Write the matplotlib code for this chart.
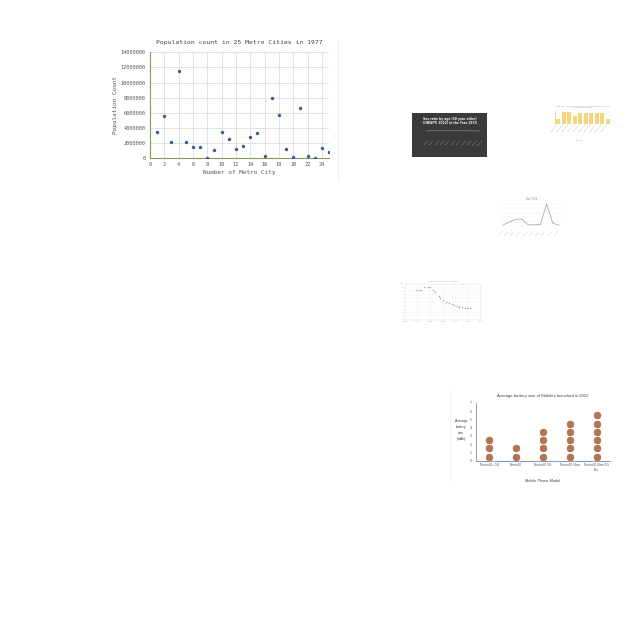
import numpy as np
import matplotlib.pyplot as plt
from matplotlib.lines import Line2D

# main chart: population of 25 metro cities
city_no = list(range(1, 26))
population = [3470000, 5560000, 2090000, 11470000, 2130000, 1470000, 1470000, 90000,
              1160000, 3420000, 2580000, 1240000, 1640000, 2840000, 3330000, 360000,
              7960000, 5690000, 1240000, 130000, 6670000, 270000, 50000, 1420000, 890000]
pop_ticks = list(range(0, 14000001, 2000000))
city_ticks = list(range(0, 25, 2))

# thumbnail: dark line chart
dark_x = list(range(1, 12))
dark_y = [0.62, 0.63, 0.64, 0.64, 0.63, 0.63, 0.64, 0.63, 0.63, 0.62, 0.62]

# thumbnail: yellow bars
bar_x = list(range(10))
bar_h = [0.40, 1.00, 1.00, 0.70, 0.95, 0.95, 0.95, 0.95, 0.95, 0.45]

# thumbnail: line chart "Year 2020"
line_x = list(range(10))
line_y = [0.04, 0.18, 0.30, 0.32, 0.06, 0.05, 0.07, 1.00, 0.12, 0.04]

# thumbnail: decreasing scatter
dec_x = [1959, 1961, 1963, 1965, 1968, 1970, 1972, 1974, 1977, 1978, 1980,
         1982, 1985, 1987, 1989, 1991, 1993, 1995, 1997, 1999, 2001]
dec_y = [8.3, 8.2, 8.3, 9.2, 9.3, 9.2, 8.3, 7.9, 6.8, 6.2, 5.6,
         5.1, 4.6, 4.4, 4.2, 4.0, 3.7, 3.5, 3.4, 3.4, 3.4]

# thumbnail: battery pictogram
models = ['Nemo20+ 5G', 'Nemo20', 'Nemo20 5G', 'Nemo20 Ultra', 'Nemo20 Ultra 5G\nPro']
battery = [3, 2, 4, 5, 6]

W = 640.0


def rect(x0, y0, x1, y1):
    # pixel box (top-left origin) -> figure fraction
    return [x0 / W, 1 - y1 / W, (x1 - x0) / W, (y1 - y0) / W]


fig = plt.figure(figsize=(6.4, 6.4), dpi=100)
fig.patch.set_facecolor('white')

mono = 'DejaVu Sans Mono'

# ---- main scatter ----
ax = fig.add_axes(rect(150, 52.3, 329, 158.3))
ax.scatter(city_no, population, s=6, color='#3a5a9c', zorder=3, linewidths=0)
ax.set_xlim(0, 25)
ax.set_ylim(0, 14000000)
ax.set_xticks(city_ticks)
ax.set_yticks(pop_ticks)
ax.set_yticklabels([str(v) for v in pop_ticks])
ax.grid(color='#dddddd', linewidth=0.6)
ax.set_axisbelow(True)
for s in ['top', 'right']:
    ax.spines[s].set_visible(False)
for s in ['left', 'bottom']:
    ax.spines[s].set_color('#8a9a5b')
    ax.spines[s].set_linewidth(0.8)
ax.tick_params(length=0, pad=3, labelsize=3.8, labelcolor='#555555')
for lab in ax.get_xticklabels() + ax.get_yticklabels():
    lab.set_family(mono)
ax.set_title('Population count in 25 Metro Cities in 1977', fontsize=4.6,
             family=mono, color='#444444', pad=6)
ax.set_xlabel('Number of Metro City', fontsize=4.3, family=mono, color='#555555', labelpad=2)
ax.set_ylabel('Population Count', fontsize=4.3, family=mono, color='#555555', labelpad=2)
fig.add_artist(Line2D([338 / W, 338 / W], [1 - 40 / W, 1 - 180 / W], color='#eeeeee', lw=0.8))

# ---- dark thumbnail ----
bg = fig.add_axes(rect(412, 113, 487, 157))
bg.set_facecolor('#3a3a3a')
bg.set_xticks([])
bg.set_yticks([])
for s in bg.spines.values():
    s.set_visible(False)
bg.text(0.5, 0.92, 'Sex ratio by age (50 year older)\n(UNWPP, 2022) in the Year 1970',
        transform=bg.transAxes, ha='center', va='top', fontsize=2.2, color='#eeeeee',
        fontweight='bold')
axd = fig.add_axes(rect(424, 126, 483, 139))
axd.plot(dark_x, dark_y, color='#999999', lw=0.4)
axd.set_ylim(0, 1)
axd.set_facecolor('none')
axd.set_xticks(dark_x)
axd.set_xticklabels(['age %d' % v for v in dark_x], rotation=45, fontsize=1.5, color='#bbbbbb')
axd.set_yticks([])
axd.tick_params(length=0, pad=1)
for s in axd.spines.values():
    s.set_visible(False)
axd.grid(axis='y', color='#555555', lw=0.3)

# ---- yellow bar thumbnail ----
axb = fig.add_axes(rect(555, 111, 611, 124))
axb.bar(bar_x, bar_h, color='#f6d57c', width=0.7)
axb.set_xlim(-0.6, 9.6)
axb.set_ylim(0, 1.1)
axb.set_xticks(bar_x)
axb.set_xticklabels(['country %d' % v for v in bar_x], rotation=50, ha='right',
                    fontsize=1.4, color='#999999')
axb.set_yticks([])
axb.tick_params(length=0, pad=0.5)
for s in ['top', 'right', 'bottom']:
    axb.spines[s].set_visible(False)
axb.spines['left'].set_color('#e8c060')
axb.spines['left'].set_linewidth(0.5)
axb.set_title('Sex ratio by age (50 year older) (UNWPP, 2022)\nin the Year 1970',
              fontsize=1.6, color='#999999', pad=2)
fig.text(580 / W, 1 - 141 / W, 'Country', fontsize=1.4, color='#999999', ha='center')

# ---- line thumbnail ----
axl = fig.add_axes(rect(501, 203, 561, 226))
axl.plot(line_x, line_y, color='#aaaaaa', lw=0.6)
axl.set_xlim(-0.3, 9.3)
axl.set_ylim(0, 1.05)
axl.set_xticks(line_x)
axl.set_xticklabels(['item %d' % v for v in line_x], rotation=45, ha='right',
                    fontsize=1.4, color='#aaaaaa')
axl.set_yticks([0, 0.2, 0.4, 0.6, 0.8, 1.0])
axl.set_yticklabels([])
axl.tick_params(length=0)
axl.grid(axis='y', color='#eeeeee', lw=0.3)
for s in axl.spines.values():
    s.set_visible(False)
axl.set_title('Year 2020', fontsize=1.8, color='#888888', pad=2)

# ---- decreasing scatter thumbnail ----
axs = fig.add_axes(rect(405, 284, 481, 320))
axs.scatter(dec_x, dec_y, s=1.2, color='#7aa0c8', linewidths=0)
axs.set_xlim(1950, 2010)
axs.set_ylim(0, 10)
axs.set_xticks(range(1950, 2011, 10))
axs.set_yticks(range(0, 11))
axs.tick_params(length=0, labelsize=1.4, labelcolor='#999999', pad=1)
axs.grid(color='#eeeeee', lw=0.3)
for s in axs.spines.values():
    s.set_color('#dddddd')
    s.set_linewidth(0.3)
axs.set_title('Lower ratios in Fertile Person', fontsize=1.5, color='#999999', pad=1.5)

# ---- battery pictogram ----
axp = fig.add_axes(rect(476, 403, 610, 460.7))
for i, n in enumerate(battery):
    axp.scatter([i] * n, np.arange(n) + 0.5, s=24, color='#b5734f',
                edgecolors='#a0613f', linewidths=0.4, zorder=3)
axp.set_xlim(-0.5, 4.5)
axp.set_ylim(0, 7)
axp.set_yticks(range(0, 8))
axp.set_xticks(range(len(models)))
axp.set_xticklabels(models, fontsize=2.3, color='#555555', family='Liberation Sans')
axp.tick_params(axis='y', labelsize=2.3, labelcolor='#555555', length=0, pad=3)
axp.tick_params(axis='x', length=0, pad=2)
for s in ['top', 'right']:
    axp.spines[s].set_visible(False)
axp.spines['left'].set_color('#555555')
axp.spines['bottom'].set_color('#4472c4')
axp.spines['left'].set_linewidth(0.4)
axp.spines['bottom'].set_linewidth(0.5)
axp.set_title('Average battery size of Mobiles launched in 2022', fontsize=3.1,
              color='#444444', family='Liberation Sans', pad=4)
axp.set_xlabel('Mobile Phone Model', fontsize=2.8, color='#444444',
               family='Liberation Sans', labelpad=5)
fig.text(461 / W, 1 - 430 / W, 'Average\nbattery\nsize\n(mAh)', fontsize=2.4, color='#333333',
         ha='center', va='center', family='Liberation Sans', linespacing=1.6)
fig.add_artist(Line2D([450 / W, 450 / W], [1 - 390 / W, 1 - 482 / W], color='#f0f0f0', lw=0.6))

fig.savefig('out.png', dpi=100)
